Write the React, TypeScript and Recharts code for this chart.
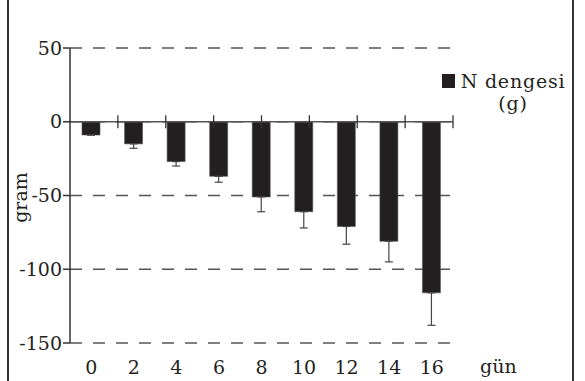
import React from 'react';
import { BarChart, Bar, XAxis, YAxis, CartesianGrid, ReferenceLine, ErrorBar, Legend } from 'recharts';

const days = ['0', '2', '4', '6', '8', '10', '12', '14', '16'];
const nBalance = [-9, -15, -27, -37, -51, -61, -71, -81, -116];
const errDown = [0, 3, 3, 4, 10, 11, 12, 14, 22];
const yTicks = [50, 0, -50, -100, -150];
const boundaries = [1, 2, 3, 4, 5, 6, 7, 8, 9];

const data = days.map((d, i) => ({ day: d, n: nBalance[i], err: [errDown[i], 0] }));

const FONT = '"DejaVu Serif", serif';
const INK = '#231f20';

const renderLegend = (props: any) => {
  const item = props.payload && props.payload[0];
  if (!item) return null;
  return (
    <div style={{ display: 'flex', alignItems: 'flex-start', fontFamily: FONT, fontSize: 19, color: INK, lineHeight: '22px' }}>
      <span style={{ display: 'inline-block', width: 13, height: 14, background: item.color, marginTop: 4, marginRight: 2 }} />
      <div style={{ width: 112, textAlign: 'center', letterSpacing: 0.8 }}>{item.value}</div>
    </div>
  );
};

export default function App() {
  return (
    <div style={{ position: 'absolute', left: 0, top: 0, width: 585, height: 381, background: '#fff', overflow: 'hidden' }}>
      <div style={{ position: 'absolute', left: 7, top: 0, width: 563, height: 381, borderLeft: '2px solid #333', borderRight: '2px solid #333' }} />
      <div style={{ position: 'absolute', left: 0, top: 0 }}>
        <BarChart width={585} height={381} data={data} margin={{ top: 48, right: 132, bottom: 2, left: 10 }}>
          <CartesianGrid vertical={false} stroke="#555" strokeWidth={1.3} strokeDasharray="12 11" />
          <XAxis
            dataKey="day"
            axisLine={false}
            tickLine={false}
            tickSize={0}
            tickMargin={18}
            height={36}
            tick={{ fill: INK, fontFamily: FONT, fontSize: 19 }}
            interval={0}
            label={{
              content: (p: any) => {
                const vb = p.viewBox || {};
                return (
                  <text x={vb.x + vb.width + 27} y={vb.y + 30} fill={INK} fontFamily={FONT} fontSize={19}>
                    gün
                  </text>
                );
              },
            }}
          />
          <XAxis xAxisId="grid" type="number" domain={[0, 9]} hide />
          <YAxis
            width={60}
            domain={[-150, 50]}
            ticks={yTicks}
            interval={0}
            axisLine={{ stroke: '#333', strokeWidth: 1.5 }}
            tickLine={{ stroke: '#333', strokeWidth: 1.5 }}
            tickSize={7}
            tickMargin={1}
            tick={{ fill: INK, fontFamily: FONT, fontSize: 19 }}
            label={{
              content: (p: any) => {
                const vb = p.viewBox || {};
                const cy = vb.y + vb.height / 2;
                return (
                  <text x={27} y={cy + 2} transform={`rotate(-90 27 ${cy + 2})`} textAnchor="middle" fill={INK} fontFamily={FONT} fontSize={19}>
                    gram
                  </text>
                );
              },
            }}
          />
          <Legend
            layout="horizontal"
            verticalAlign="middle"
            align="center"
            content={renderLegend}
            wrapperStyle={{ left: 442, top: 70, width: 135 }}
          />
          <Bar dataKey="n" name="N dengesi (g)" fill={INK} stroke="#555" strokeWidth={0.6} barSize={18} isAnimationActive={false}>
            <ErrorBar dataKey="err" width={4} stroke="#444" strokeWidth={1.2} isAnimationActive={false} />
          </Bar>
          <ReferenceLine y={0} stroke="#555" strokeWidth={1.5} />
          {boundaries.map((b) => (
            <ReferenceLine
              key={b}
              xAxisId="grid"
              segment={[{ x: b, y: -4.4 }, { x: b, y: 4.4 }]}
              stroke="#333"
              strokeWidth={1.3}
            />
          ))}
        </BarChart>
      </div>
    </div>
  );
}
